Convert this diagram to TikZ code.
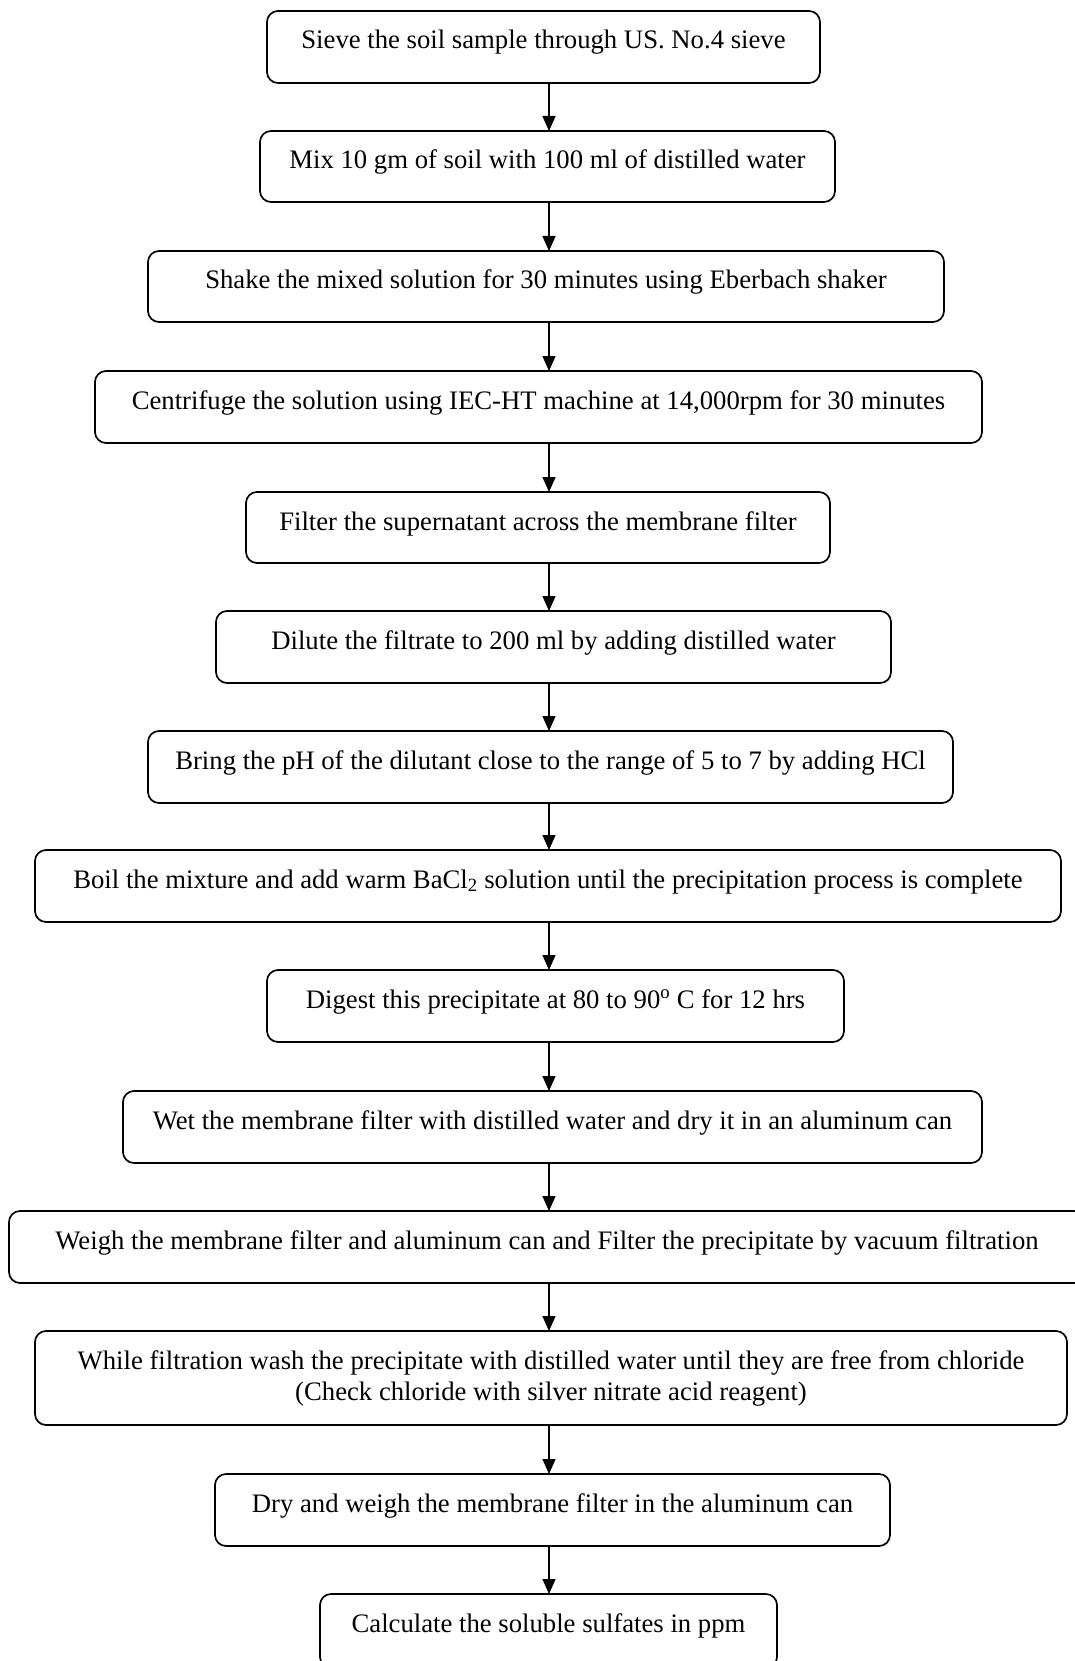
\documentclass[tikz,border=0pt]{standalone}
\usepackage{fontspec}
\setmainfont{Liberation Serif}
\usetikzlibrary{arrows.meta}
\tikzset{
  stepbox/.style={draw=black, line width=1.7pt, rounded corners=11pt, fill=none},
  steptext/.style={inner sep=0pt, anchor=base, align=center, font=\fontsize{26.7}{31}\selectfont},
  flow/.style={draw=black, line width=1.5pt, -{Triangle[length=15pt,width=13pt]}}
}
% #1 name, #2 left, #3 top, #4 right, #5 bottom, #6 baseline offset of last line, #7 text
\newcommand{\mkbox}[7]{%
  \path[stepbox] (#2,#3) rectangle (#4,#5);
  \node[steptext] (#1) at ({(#2+#4)/2},{#3+#6}) {#7};
  \coordinate (#1-top) at ({(#2+#4)/2},#3);
  \coordinate (#1-bot) at ({(#2+#4)/2},#5);
}
\begin{document}
\begin{tikzpicture}[x=1pt,y=-1pt]
\useasboundingbox (0,0) rectangle (1075,1661);
\clip (0,0) rectangle (1075,1661);
\fill[white] (0,0) rectangle (1075,1661);

\mkbox{b1}{267}{11}{820}{83}{38}{Sieve the soil sample through US. No.4 sieve}
\mkbox{b2}{260}{131}{835}{202}{38}{Mix 10 gm of soil with 100 ml of distilled water}
\mkbox{b3}{148}{251}{944}{322}{38}{Shake the mixed solution for 30 minutes using Eberbach shaker}
\mkbox{b4}{95}{371}{982}{443}{38}{Centrifuge the solution using IEC-HT machine at 14,000rpm for 30 minutes}
\mkbox{b5}{246}{492}{830}{563}{38}{Filter the supernatant across the membrane filter}
\mkbox{b6}{216}{611}{891}{683}{38}{Dilute the filtrate to 200 ml by adding distilled water}
\mkbox{b7}{148}{731}{953}{803}{38}{Bring the pH of the dilutant close to the range of 5 to 7 by adding HCl}
\mkbox{b8}{35}{850}{1061}{922}{38}{Boil the mixture and add warm BaCl\textsubscript{2} solution until the precipitation process is complete}
\mkbox{b9}{267}{970}{844}{1042}{38}{Digest this precipitate at 80 to 90\textsuperscript{o} C for 12 hrs}
\mkbox{b10}{123}{1091}{982}{1163}{38}{Wet the membrane filter with distilled water and dry it in an aluminum can}
\mkbox{b11}{9}{1211}{1085}{1283}{38}{Weigh the membrane filter and aluminum can and Filter the precipitate by vacuum filtration}
\mkbox{b12}{35}{1331}{1067}{1425}{69}{While filtration wash the precipitate with distilled water until they are free from chloride\\(Check chloride with silver nitrate acid reagent)}
\mkbox{b13}{215}{1474}{890}{1546}{38}{Dry and weigh the membrane filter in the aluminum can}
\mkbox{b14}{320}{1594}{777}{1668}{38}{Calculate the soluble sulfates in ppm}

\coordinate (ax) at (549,0);
\foreach \a/\b in {b1/b2,b2/b3,b3/b4,b4/b5,b5/b6,b6/b7,b7/b8,b8/b9,b9/b10,b10/b11,b11/b12,b12/b13,b13/b14}{
  \draw[flow] (\a-bot -| ax) -- (\b-top -| ax);
}
\end{tikzpicture}
\end{document}
